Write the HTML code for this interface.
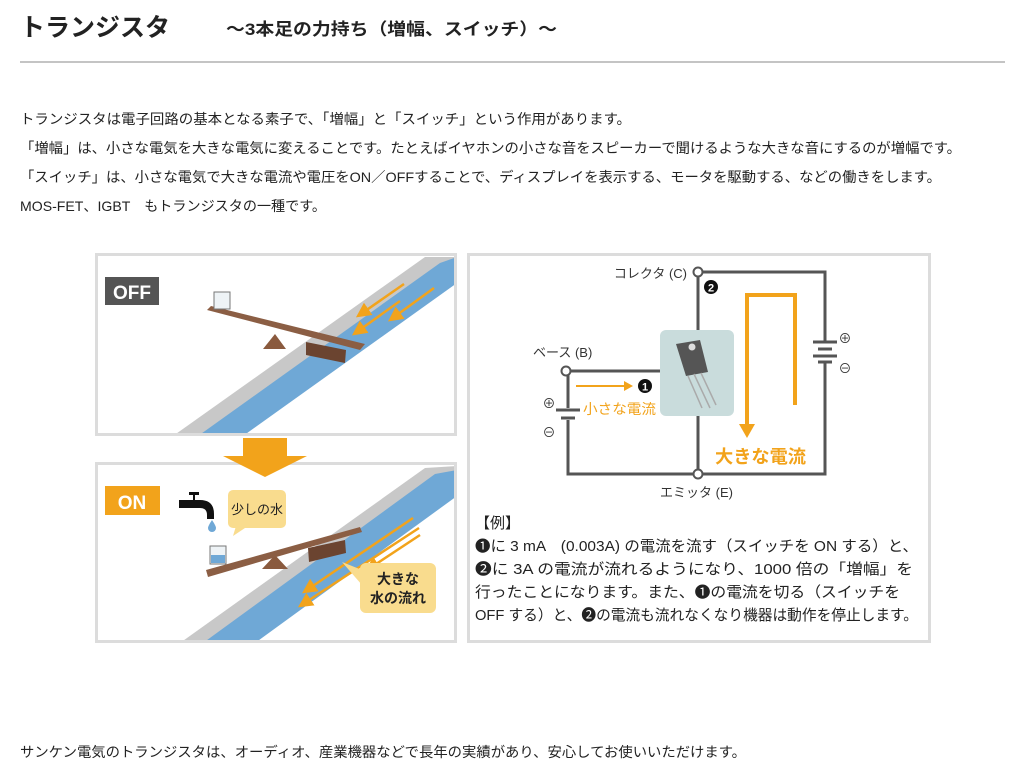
<!DOCTYPE html>
<html><head><meta charset="utf-8"><style>
html,body{margin:0;padding:0;background:#fff;}
svg{display:block;font-family:"Liberation Sans","Noto Sans CJK JP",sans-serif;}
</style></head><body>
<svg width="1023" height="779" viewBox="0 0 1023 779" xmlns="http://www.w3.org/2000/svg">
<defs>
<marker id="ah" markerWidth="6" markerHeight="6" refX="5" refY="3" orient="auto" markerUnits="strokeWidth"><path d="M0,0L6,3L0,6z" fill="#f2a31b"/></marker>
</defs>
<text x="20" y="36" font-size="25" font-weight="bold" fill="#222" textLength="150" lengthAdjust="spacingAndGlyphs">トランジスタ</text>
<text x="226" y="35" font-size="17" font-weight="bold" fill="#222" textLength="331" lengthAdjust="spacingAndGlyphs">～3本足の力持ち（増幅、スイッチ）～</text>
<rect x="20" y="61" width="985" height="2" fill="#c4c4c4"/>
<g font-size="14" fill="#222">
<text x="20" y="124" textLength="611" lengthAdjust="spacingAndGlyphs">トランジスタは電子回路の基本となる素子で、「増幅」と「スイッチ」という作用があります。</text>
<text x="20" y="153" textLength="941" lengthAdjust="spacingAndGlyphs">「増幅」は、小さな電気を大きな電気に変えることです。たとえばイヤホンの小さな音をスピーカーで聞けるような大きな音にするのが増幅です。</text>
<text x="20" y="182" textLength="921" lengthAdjust="spacingAndGlyphs">「スイッチ」は、小さな電気で大きな電流や電圧をON／OFFすることで、ディスプレイを表示する、モータを駆動する、などの働きをします。</text>
<text x="20" y="211" textLength="306" lengthAdjust="spacingAndGlyphs">MOS-FET、IGBT　もトランジスタの一種です。</text>
<text x="20" y="757" textLength="726" lengthAdjust="spacingAndGlyphs">サンケン電気のトランジスタは、オーディオ、産業機器などで長年の実績があり、安心してお使いいただけます。</text>
</g>

<svg x="95" y="253" width="362" height="183" overflow="hidden">
<rect x="0" y="0" width="362" height="183" fill="#fff"/>
<polygon points="78,183 330,4 362,4 362,10 112,183" fill="#c8c8c8"/>
<polygon points="103,183 345,10 362,4 362,30 148,183" fill="#6fa8d6"/>
</svg>
<rect x="96.5" y="254.5" width="359" height="180" fill="none" stroke="#dcdcdc" stroke-width="3"/>
<rect x="105" y="277" width="54" height="28" fill="#555"/>
<text x="132" y="299" font-size="19" font-weight="bold" fill="#fff" text-anchor="middle">OFF</text>
<polygon points="263,349 275,334 286,349" fill="#8a5a3e"/>
<polygon points="306,342 346,350 345,363 306,355" fill="#6b4430"/>
<polygon points="207,310 211,306 365,344 360,350" fill="#8b5e44"/>
<rect x="214" y="292" width="16" height="17" fill="#eef3f6" stroke="#777" stroke-width="1"/>
<g stroke="#f2a31b" stroke-width="2.5" fill="none" marker-end="url(#ah)">
<line x1="404" y1="284" x2="358" y2="316"/>
<line x1="400" y1="301" x2="354" y2="334"/>
<line x1="434" y1="288" x2="390" y2="320"/>
</g>

<svg x="95" y="462" width="362" height="181" overflow="hidden">
<rect x="0" y="0" width="362" height="181" fill="#fff"/>
<polygon points="85,181 330,6 362,4 362,14 120,181" fill="#c8c8c8"/>
<polygon points="108,181 340,12 362,8 362,34 160,181" fill="#6fa8d6"/>
</svg>
<rect x="96.5" y="463.5" width="359" height="178" fill="none" stroke="#dcdcdc" stroke-width="3"/>

<polygon points="243,438 287,438 287,456 307,456 265,477 223,456 243,456" fill="#f2a31b"/>

<rect x="105" y="486" width="55" height="29" fill="#f2a31b"/>
<text x="132" y="509" font-size="19" font-weight="bold" fill="#fff" text-anchor="middle">ON</text>
<path d="M179,500 h14 v-5 h-4 v-3 h10 v3 h-4 v5 h5 q14,0 14,14 v5 h-7 v-4 q0,-7 -7,-7 h-21 z" fill="#111"/>
<path d="M212,520 q4,6 4,8 a4,4 0 0 1 -8,0 q0,-2 4,-8z" fill="#6fa8d6"/>
<rect x="228" y="490" width="58" height="38" rx="5" fill="#f9dc8e"/>
<polygon points="236,526 233,536 248,526" fill="#f9dc8e"/>
<text x="257" y="514" font-size="13" fill="#222" text-anchor="middle">少しの水</text>
<polygon points="262,569 275,555 288,569" fill="#8a5a3e"/>
<polygon points="308,548 345,540 346,553 309,562" fill="#6b4430"/>
<polygon points="206,570 360,527 362,532 208,577" fill="#8b5e44"/>
<rect x="210" y="546" width="16" height="18" fill="#eef3f6" stroke="#777" stroke-width="1"/>
<rect x="211" y="555" width="14" height="8" fill="#6fa8d6"/>
<g stroke="#f2a31b" stroke-width="2.5" fill="none" marker-end="url(#ah)">
<line x1="413" y1="518" x2="304" y2="592"/>
<line x1="419" y1="528" x2="300" y2="606"/>
<line x1="420" y1="535" x2="367" y2="570"/>
</g>
<rect x="360" y="563" width="76" height="50" rx="6" fill="#f9dc8e"/>
<polygon points="362,570 342,562 362,585" fill="#f9dc8e"/>
<text x="398" y="584" font-size="14" font-weight="bold" fill="#222" text-anchor="middle">大きな</text>
<text x="398" y="603" font-size="14" font-weight="bold" fill="#222" text-anchor="middle">水の流れ</text>

<rect x="468.5" y="254.5" width="461" height="387" fill="#fff" stroke="#dcdcdc" stroke-width="3"/>
<g stroke="#555" stroke-width="3" fill="none">
<path d="M698,272 H825 V342"/>
<path d="M825,362 V474 H568 V420"/>
<path d="M568,408 V371 H660"/>
<path d="M698,272 V474"/>
</g>
<g stroke="#555" stroke-width="3">
<line x1="813" y1="342" x2="837" y2="342"/>
<line x1="818" y1="349" x2="832" y2="349"/>
<line x1="813" y1="356" x2="837" y2="356"/>
<line x1="818" y1="362" x2="832" y2="362"/>
<line x1="556" y1="410" x2="580" y2="410"/>
<line x1="561" y1="418" x2="575" y2="418"/>
</g>
<g fill="#fff" stroke="#555" stroke-width="2">
<circle cx="698" cy="272" r="4.5"/>
<circle cx="698" cy="474" r="4.5"/>
<circle cx="566" cy="371" r="4.5"/>
</g>
<g font-size="13" fill="#333" stroke="none">
<text x="845" y="343" text-anchor="middle">⊕</text>
<text x="845" y="373" text-anchor="middle">⊖</text>
<text x="549" y="408" text-anchor="middle">⊕</text>
<text x="549" y="437" text-anchor="middle">⊖</text>
<text x="687" y="278" text-anchor="end">コレクタ (C)</text>
<text x="533" y="357">ベース (B)</text>
<text x="660" y="497">エミッタ (E)</text>
</g>
<rect x="660" y="330" width="74" height="86" rx="6" fill="#c9dcdc"/>
<polygon points="676,344 700,340 708,372 686,376" fill="#555"/>
<circle cx="692" cy="347" r="3.5" fill="#ddd"/>
<g stroke="#aaa" stroke-width="1.5"><line x1="688" y1="376" x2="702" y2="408"/><line x1="694" y1="374" x2="710" y2="408"/><line x1="701" y1="373" x2="716" y2="405"/></g>
<path d="M795,405 V295 H747 V425" stroke="#f2a31b" stroke-width="4" fill="none"/>
<polygon points="739,424 755,424 747,438" fill="#f2a31b"/>
<line x1="576" y1="386" x2="626" y2="386" stroke="#f2a31b" stroke-width="2"/>
<polygon points="624,381 633,386 624,391" fill="#f2a31b"/>
<circle cx="645" cy="386" r="7" fill="#111"/>
<text x="645" y="390.5" font-size="11" font-weight="bold" fill="#fff" text-anchor="middle">1</text>
<circle cx="711" cy="287" r="7" fill="#111"/>
<text x="711" y="291.5" font-size="11" font-weight="bold" fill="#fff" text-anchor="middle">2</text>
<text x="583" y="414" font-size="14" fill="#f2a31b" textLength="73" lengthAdjust="spacingAndGlyphs">小さな電流</text>
<text x="715" y="463" font-size="18" font-weight="bold" fill="#f2a31b" textLength="91" lengthAdjust="spacingAndGlyphs">大きな電流</text>
<g font-size="15" fill="#222">
<text x="475" y="528">【例】</text>
<text x="475" y="551" textLength="443" lengthAdjust="spacingAndGlyphs">❶に 3 mA　(0.003A) の電流を流す（スイッチを ON する）と、</text>
<text x="475" y="574" textLength="438" lengthAdjust="spacingAndGlyphs">❷に 3A の電流が流れるようになり、1000 倍の「増幅」を</text>
<text x="475" y="597" textLength="425" lengthAdjust="spacingAndGlyphs">行ったことになります。また、❶の電流を切る（スイッチを</text>
<text x="475" y="620" textLength="443" lengthAdjust="spacingAndGlyphs">OFF する）と、❷の電流も流れなくなり機器は動作を停止します。</text>
</g>
</svg>
</body></html>
